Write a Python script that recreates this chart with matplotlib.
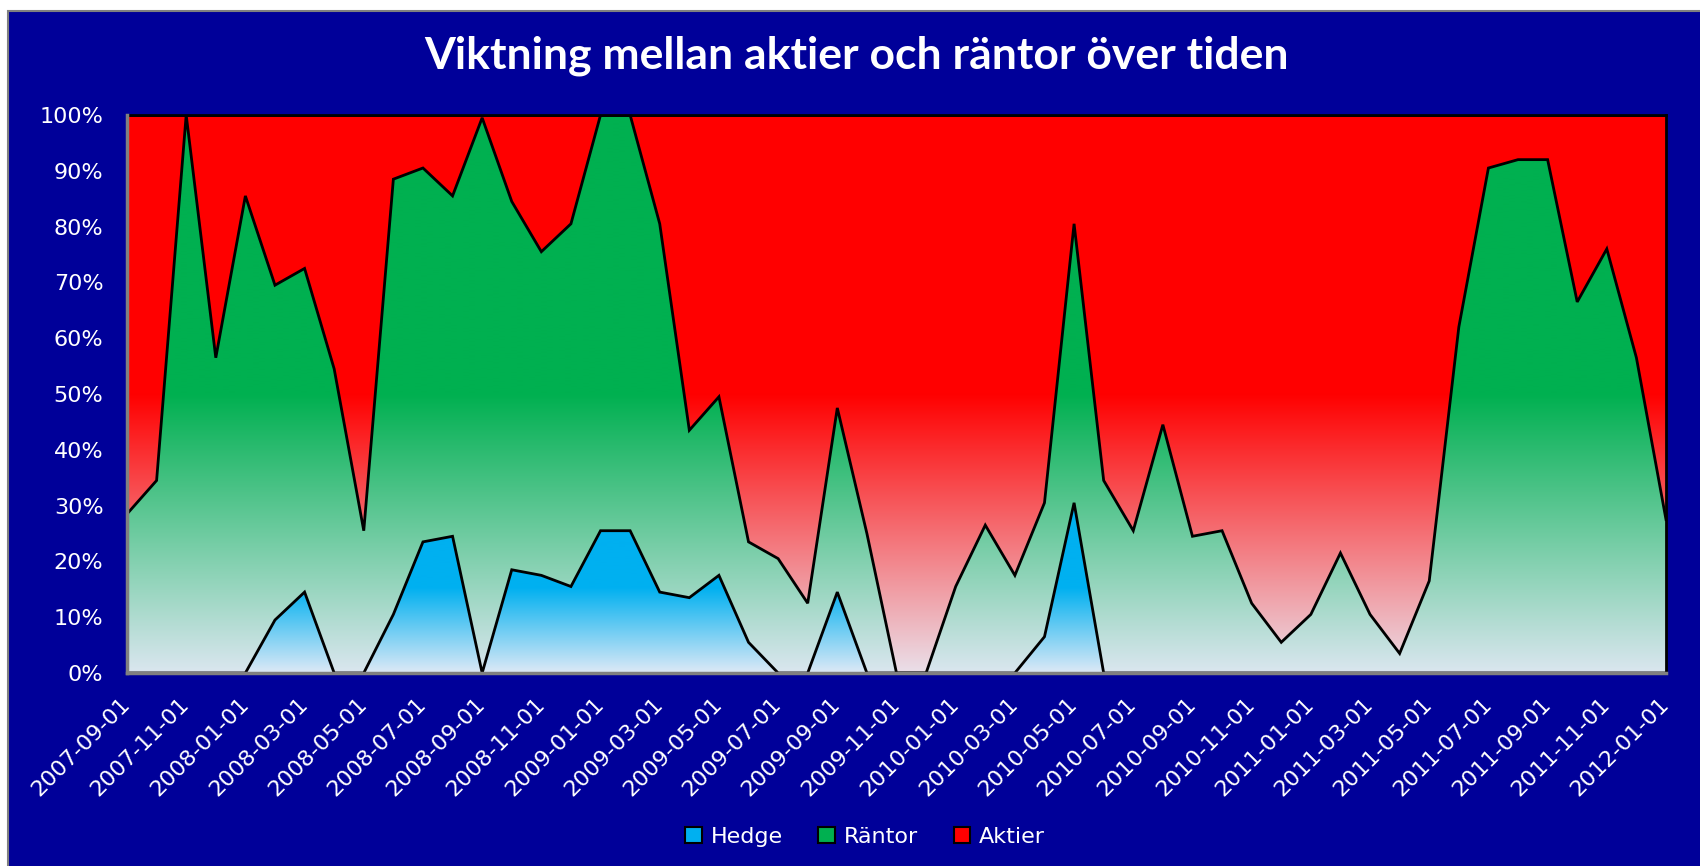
import numpy as np
import pandas as pd
import matplotlib
matplotlib.use("Agg")
import matplotlib.pyplot as plt
from matplotlib.colors import LinearSegmentedColormap
from matplotlib.patches import Rectangle, Patch

# %% data (percent of portfolio per month)

months = pd.date_range("2007-09-01", "2012-01-01", freq="MS").strftime("%Y-%m-%d").tolist()

hedge = [0, 0, 0, 0, 0, 9.5, 14.5, 0, 0, 10.5, 23.5, 24.5, 0, 18.5, 17.5, 15.5,
         25.5, 25.5, 14.5, 13.5, 17.5, 5.5, 0, 0, 14.5, 0, 0, 0, 0, 0, 0, 6.5,
         30.5, 0, 0, 0, 0, 0, 0, 0, 0, 0, 0, 0, 0, 0, 0, 0, 0, 0, 0, 0, 0]

rantor = [28.5, 34.5, 100, 56.5, 85.5, 60, 58, 54.5, 25.5, 78, 67, 61, 99.5, 66, 58, 65,
          74.5, 74.5, 66, 30, 32, 18, 20.5, 12.5, 33, 25, 0, 0, 15.5, 26.5, 17.5, 24,
          50, 34.5, 25.5, 44.5, 24.5, 25.5, 12.5, 5.5, 10.5, 21.5, 10.5, 3.5, 16.5, 62,
          90.5, 92, 92, 66.5, 76, 56.5, 27.5]

aktier = [71.5, 65.5, 0, 43.5, 14.5, 30.5, 27.5, 45.5, 74.5, 11.5, 9.5, 14.5, 0.5, 15.5, 24.5, 19.5,
          0, 0, 19.5, 56.5, 50.5, 76.5, 79.5, 87.5, 52.5, 75, 100, 100, 84.5, 73.5, 82.5, 69.5,
          19.5, 65.5, 74.5, 55.5, 75.5, 74.5, 87.5, 94.5, 89.5, 78.5, 89.5, 96.5, 83.5, 38,
          9.5, 8, 8, 33.5, 24, 43.5, 72.5]

series_names = ["Hedge", "Räntor", "Aktier"]
top_colors = ["#00b0f0", "#00b050", "#ff0000"]
bottom_colors = ["#dde9f6", "#dae6ef", "#eadfe9"]

title = "Viktning mellan aktier och räntor över tiden"

# %% stack to 100%

vals = np.array([hedge, rantor, aktier], dtype=float)
vals = vals / vals.sum(axis=0) * 100
cum = np.vstack([np.zeros(vals.shape[1]), np.cumsum(vals, axis=0)])
x = np.arange(len(months))

W, H = 1700, 866
fig = plt.figure(figsize=(W / 100, H / 100), dpi=100)
fig.patch.set_facecolor("white")
fig.patches.append(Rectangle((8 / W, -0.01), 1.0, 1 - 11 / H + 0.01, transform=fig.transFigure,
                             facecolor="#000099", edgecolor="#808080", linewidth=1.5, zorder=-10))

ax = fig.add_axes([127 / W, 1 - 673 / H, (1666 - 127) / W, (673 - 115) / H])


def grad_fill(ax, x, lower, upper, c_top, c_bottom):
    # Excel-style gradient: pale at the bottom of the series' box, full colour from its middle up
    poly = ax.fill_between(x, lower, upper, facecolor="none", edgecolor="none")
    cmap = LinearSegmentedColormap.from_list("g", [(0, c_bottom), (0.5, c_top), (1, c_top)])
    grad = np.linspace(0, 1, 256).reshape(-1, 1)
    im = ax.imshow(grad, cmap=cmap, origin="lower", aspect="auto", interpolation="bilinear",
                   extent=[x[0], x[-1], lower.min(), upper.max()], zorder=1)
    im.set_clip_path(poly.get_paths()[0], transform=ax.transData)


for k in range(3):
    grad_fill(ax, x, cum[k], cum[k + 1], top_colors[k], bottom_colors[k])
    ax.plot(x, cum[k + 1], color="black", linewidth=2.0, zorder=3, solid_joinstyle="miter")

ax.set_xlim(x[0], x[-1])
ax.set_ylim(0, 100)

ax.set_yticks(np.arange(0, 101, 10))
ax.set_yticklabels(["{}%".format(v) for v in range(0, 101, 10)])
ax.set_xticks(x[::2])
ax.set_xticklabels(months[::2], rotation=45, ha="right", va="center", rotation_mode="anchor")
ax.tick_params(axis="both", length=0, colors="white", labelsize=16)
ax.tick_params(axis="y", pad=17)
ax.tick_params(axis="x", pad=20)

for side in ["top", "right"]:
    ax.spines[side].set_color("black")
    ax.spines[side].set_linewidth(2)
    ax.spines[side].set_zorder(4)
for side in ["left", "bottom"]:
    ax.spines[side].set_color("#808080")
    ax.spines[side].set_linewidth(2.5)
    ax.spines[side].set_zorder(5)

fig.text(857 / W, 1 - 56 / H, title, ha="center", va="center", color="white",
         fontsize=32, fontfamily="Lato", fontweight="bold")

handles = [Patch(facecolor=c, edgecolor="black", linewidth=1.5) for c in top_colors]
fig.legend(handles, series_names, loc="center", bbox_to_anchor=(865 / W, 1 - 837 / H), ncol=3,
           frameon=False, fontsize=16, labelcolor="white", handlelength=0.75, handleheight=0.75,
           handletextpad=0.4, columnspacing=1.6)

fig.savefig("out.png", dpi=100, facecolor=fig.get_facecolor())
